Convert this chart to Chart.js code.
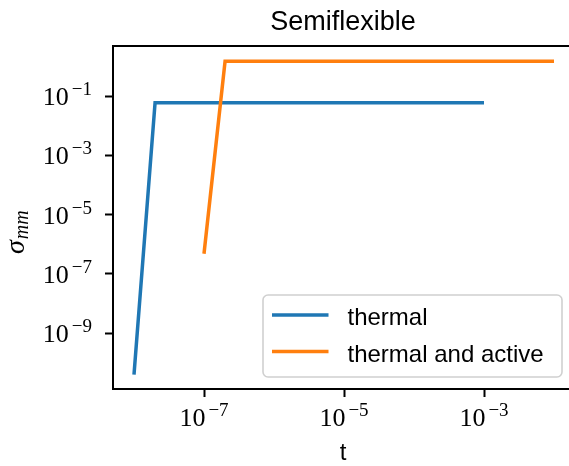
<!DOCTYPE html>
<html lang="en">
<head>
    <meta charset="UTF-8">
    <title>Semiflexible</title>
    <script src="https://cdn.jsdelivr.net/npm/chart.js"></script>
    <style>
        html, body { margin: 0; padding: 0; overflow: hidden; background: #fff; }
        #wrap { width: 576px; height: 466px; }
    </style>
</head>
<body>
<div id="wrap">
    <canvas id="chart" width="576" height="466"></canvas>
</div>
<script>
    // values
    const tThermal = [1e-8, 2e-8, 1e-3];
    const sigmaThermal = [4e-11, 0.06, 0.06];
    const tActive = [1e-7, 2e-7, 1e-2];
    const sigmaActive = [4.8e-7, 1.5, 1.5];
    const seriesLabels = ['thermal', 'thermal and active'];
    const xTickExps = [-7, -5, -3];
    const yTickExps = [-1, -3, -5, -7, -9];
    const xMin = Math.pow(10, -8.3), xMax = Math.pow(10, -1.7);
    const yMin = Math.pow(10, -10.88), yMax = Math.pow(10, 0.69);

    const SANS = '"Liberation Sans", Arial, sans-serif';
    const SERIF = '"Liberation Serif", "Times New Roman", serif';

    function drawPow(ctx, exp, x, y, align) {
        ctx.font = '26px ' + SERIF;
        const w1 = ctx.measureText('10').width;
        ctx.font = '19px ' + SERIF;
        const sup = '\u2212' + Math.abs(exp);
        const w2 = ctx.measureText(sup).width;
        const gap = 3;
        const total = w1 + gap + w2;
        const x0 = align === 'center' ? x - total / 2 : x - total;
        ctx.textAlign = 'left';
        ctx.textBaseline = 'alphabetic';
        ctx.font = '26px ' + SERIF;
        ctx.fillText('10', x0, y);
        ctx.font = '19px ' + SERIF;
        ctx.fillText(sup, x0 + w1 + gap, y - 10);
    }

    const decor = {
        id: 'decor',
        afterDraw(chart) {
            const ctx = chart.ctx;
            const a = chart.chartArea;
            const xs = chart.scales.x, ys = chart.scales.y;
            ctx.save();
            ctx.fillStyle = '#000';

            // top spine
            ctx.strokeStyle = '#000';
            ctx.lineWidth = 2;
            ctx.beginPath();
            ctx.moveTo(a.left - 1, a.top);
            ctx.lineTo(a.right, a.top);
            ctx.stroke();

            // tick labels
            xs.ticks.forEach(t => {
                drawPow(ctx, Math.round(Math.log10(t.value)), xs.getPixelForValue(t.value), a.bottom + 37, 'center');
            });
            ys.ticks.forEach(t => {
                drawPow(ctx, Math.round(Math.log10(t.value)), a.left - 21, ys.getPixelForValue(t.value) + 9, 'right');
            });

            // title
            ctx.font = '27px ' + SANS;
            ctx.textAlign = 'center';
            ctx.textBaseline = 'alphabetic';
            ctx.fillText('Semiflexible', (a.left + a.right) / 2 - 1, 30);

            // x title
            ctx.font = '24px ' + SANS;
            ctx.fillText('t', (a.left + a.right) / 2 - 1, 460);

            // y title
            ctx.save();
            ctx.translate(24, 254);
            ctx.rotate(-Math.PI / 2);
            ctx.textAlign = 'left';
            ctx.font = 'italic 28px ' + SERIF;
            ctx.fillText('\u03c3', 0, 0);
            const ws = ctx.measureText('\u03c3').width;
            ctx.font = 'italic 20px ' + SERIF;
            ctx.fillText('mm', ws + 1, 4);
            ctx.restore();

            // legend
            const lx = a.right - 13 - 299, ly = a.bottom - 12 - 82;
            ctx.beginPath();
            ctx.roundRect(lx, ly, 299, 82, 5);
            ctx.fillStyle = 'rgba(255,255,255,0.8)';
            ctx.fill();
            ctx.strokeStyle = '#d0d0d0';
            ctx.lineWidth = 1.6;
            ctx.stroke();
            chart.data.datasets.forEach((ds, i) => {
                const yy = ly + 20 + i * 36.5;
                ctx.strokeStyle = ds.borderColor;
                ctx.lineWidth = 3.5;
                ctx.beginPath();
                ctx.moveTo(lx + 9, yy);
                ctx.lineTo(lx + 65.5, yy);
                ctx.stroke();
                ctx.fillStyle = '#000';
                ctx.font = '24px ' + SANS;
                ctx.textAlign = 'left';
                ctx.fillText(ds.label, lx + 84.5, yy + 10);
            });
            ctx.restore();
        }
    };

    const axisBase = {
        type: 'logarithmic',
        ticks: { display: false },
        grid: {
            display: true,
            drawOnChartArea: false,
            drawTicks: true,
            tickLength: 8,
            tickWidth: 2,
            tickColor: '#000'
        },
        border: { display: true, color: '#000', width: 2 }
    };

    const config = {
        type: 'line',
        data: {
            datasets: [
                {
                    label: seriesLabels[0],
                    data: tThermal.map((t, i) => ({ x: t, y: sigmaThermal[i] })),
                    borderColor: '#1f77b4',
                    borderWidth: 3.5,
                    pointRadius: 0,
                    fill: false,
                    order: 2
                },
                {
                    label: seriesLabels[1],
                    data: tActive.map((t, i) => ({ x: t, y: sigmaActive[i] })),
                    borderColor: '#ff7f0e',
                    borderWidth: 3.5,
                    pointRadius: 0,
                    fill: false,
                    order: 1
                }
            ]
        },
        options: {
            responsive: false,
            animation: false,
            layout: { padding: { top: 46, right: 1, left: 0, bottom: 0 } },
            plugins: {
                legend: { display: false },
                title: { display: false },
                tooltip: { enabled: false }
            },
            scales: {
                x: Object.assign({}, axisBase, {
                    min: xMin,
                    max: xMax,
                    afterBuildTicks: s => { s.ticks = xTickExps.map(e => ({ value: Math.pow(10, e) })); },
                    afterFit: s => { s.height = 77; }
                }),
                y: Object.assign({}, axisBase, {
                    min: yMin,
                    max: yMax,
                    afterBuildTicks: s => { s.ticks = yTickExps.map(e => ({ value: Math.pow(10, e) })); },
                    afterFit: s => { s.width = 113; }
                })
            }
        },
        plugins: [decor]
    };
    new Chart(document.getElementById('chart'), config);
</script>
</body>
</html>
